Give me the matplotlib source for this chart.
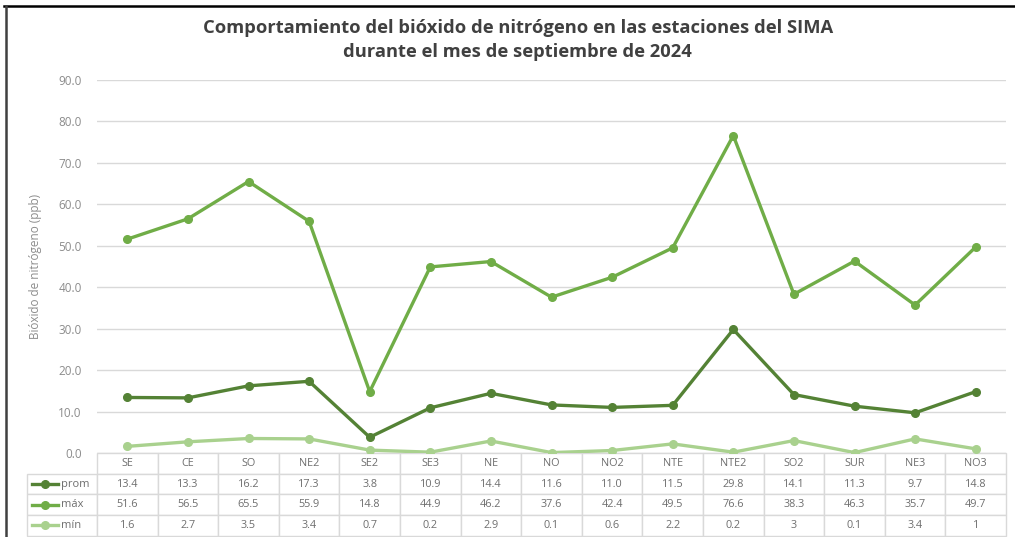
import matplotlib
matplotlib.use('Agg')
import matplotlib.pyplot as plt
from matplotlib.lines import Line2D

estaciones = ['SE', 'CE', 'SO', 'NE2', 'SE2', 'SE3', 'NE', 'NO', 'NO2', 'NTE',
              'NTE2', 'SO2', 'SUR', 'NE3', 'NO3']
prom = [13.4, 13.3, 16.2, 17.3, 3.8, 10.9, 14.4, 11.6, 11.0, 11.5, 29.8, 14.1, 11.3, 9.7, 14.8]
maxv = [51.6, 56.5, 65.5, 55.9, 14.8, 44.9, 46.2, 37.6, 42.4, 49.5, 76.6, 38.3, 46.3, 35.7, 49.7]
minv = [1.6, 2.7, 3.5, 3.4, 0.7, 0.2, 2.9, 0.1, 0.6, 2.2, 0.2, 3, 0.1, 3.4, 1]

series = [('prom', prom, '#548235', '{:.1f}'),
          ('máx', maxv, '#70AD47', '{:.1f}'),
          ('mín', minv, '#A9D18E', '{:g}')]

plt.rcParams['font.family'] = ['Open Sans', 'DejaVu Sans']
txt_col = '#8C8C8C'
cell_col = '#6E6E6E'
grid_col = '#D9D9D9'

fig = plt.figure(figsize=(10.15, 5.37), dpi=100)
W, H = 1015, 537
x0, x1, ytop, ybot = 97, 1006, 80, 453
ax = fig.add_axes([x0 / W, (H - ybot) / H, (x1 - x0) / W, (ybot - ytop) / H])

x = list(range(len(estaciones)))
for name, vals, col, fmt in series:
    ax.plot(x, vals, color=col, lw=2.4, marker='o', ms=5.5, zorder=3)

ax.set_xlim(-0.5, len(estaciones) - 0.5)
ax.set_ylim(0, 90)
ax.set_yticks(range(0, 91, 10))
ax.set_yticklabels(['{:.1f}'.format(v) for v in range(0, 91, 10)],
                   color=txt_col, fontsize=8.5)
ax.set_xticks([])
ax.tick_params(axis='y', length=0, pad=11)
ax.grid(axis='y', color=grid_col, lw=1)
ax.set_axisbelow(True)
for s in ax.spines.values():
    s.set_visible(False)
ax.set_ylabel('Bióxido de nitrógeno (ppb)', color=txt_col, fontsize=8.5, labelpad=12)

# data table under the plot; first column holds the legend keys
axw = x1 - x0
axh = ybot - ytop
rowh = 20.7
lblw = 70
colw = axw / len(estaciones)
cell_text = [[''] + [fmt.format(v) for v in vals] for name, vals, col, fmt in series]
tb = ax.table(cellText=cell_text, colLabels=[''] + estaciones,
              cellLoc='center', colWidths=[lblw] + [colw] * len(estaciones),
              bbox=[-lblw / axw, -4 * rowh / axh, (axw + lblw) / axw, 4 * rowh / axh])
tb.auto_set_font_size(False)
for (r, c), cell in tb.get_celld().items():
    cell.set_edgecolor(grid_col)
    cell.set_linewidth(1)
    cell.get_text().set_fontsize(7.8)
    cell.get_text().set_color(cell_col)
tb[0, 0].visible_edges = ''

# legend keys in the row label column
for i, (name, vals, col, fmt) in enumerate(series, start=1):
    yc = -(i * rowh + rowh / 2) / axh
    ax.add_line(Line2D([(32 - x0) / axw, (58 - x0) / axw], [yc, yc], color=col, lw=2.4,
                       transform=ax.transAxes, clip_on=False, zorder=6))
    ax.add_line(Line2D([(45 - x0) / axw], [yc], color=col, marker='o', ms=5.5,
                       transform=ax.transAxes, clip_on=False, zorder=6))
    ax.text((61 - x0) / axw, yc, name, transform=ax.transAxes, ha='left', va='center',
            fontsize=8, color=cell_col, zorder=6)

fig.text(0.51, 0.964, 'Comportamiento del bióxido de nitrógeno en las estaciones del SIMA\n'
         'durante el mes de septiembre de 2024', ha='center', va='top', fontsize=13.2,
         fontweight='bold', color='#404040', linespacing=1.4)

# outer frame lines (top and left)
fig.add_artist(Line2D([4 / W, 1], [1 - 6 / H, 1 - 6 / H], color='black', lw=1.8,
                      transform=fig.transFigure))
fig.add_artist(Line2D([6 / W, 6 / W], [0, 1 - 6 / H], color='#404040', lw=1.8,
                      transform=fig.transFigure))

fig.savefig('out.png', dpi=100)
